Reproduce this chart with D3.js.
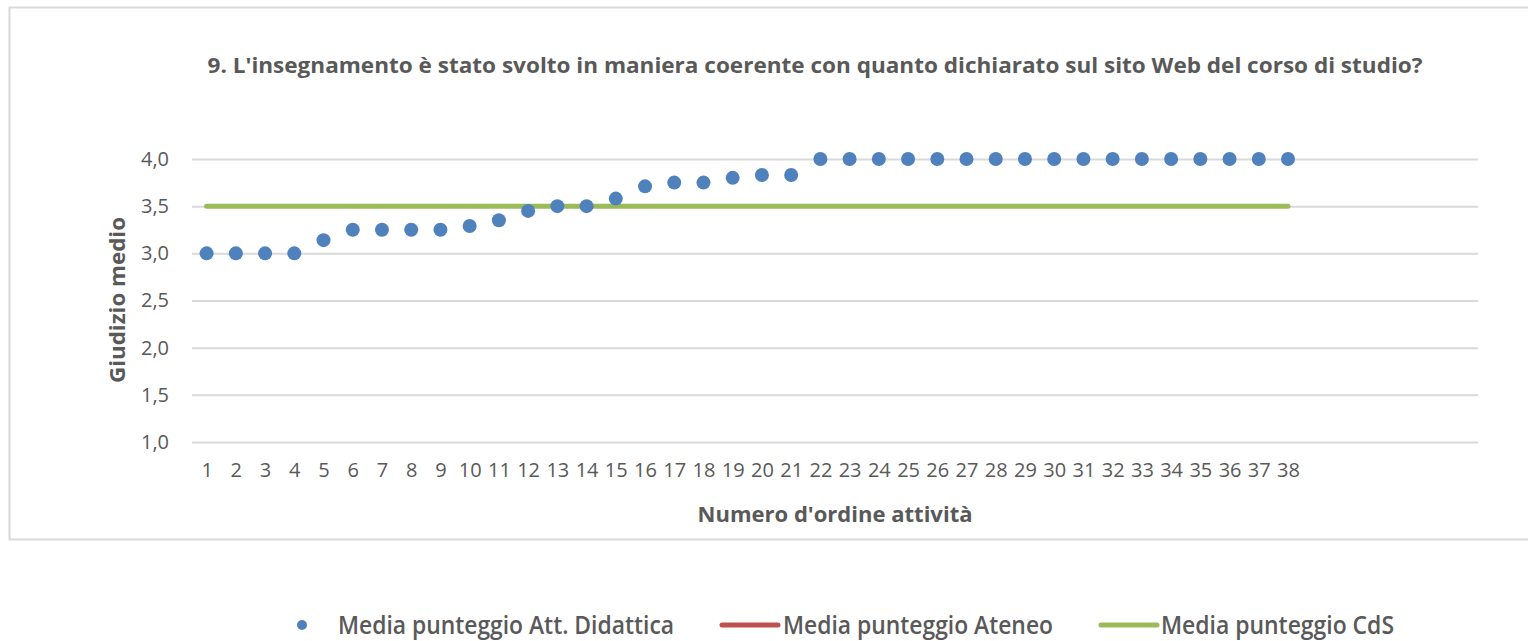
<!DOCTYPE html>
<html>
  <head>
    <meta charset="UTF-8">
    <title>9. L'insegnamento è stato svolto in maniera coerente</title>
    <script src="https://d3js.org/d3.v7.min.js"></script>
    <style type="text/css">
      body { margin: 0px; padding: 0px; background: #fff; }
      svg { display: block; }
      text { font-family: "Open Sans", "DejaVu Sans", sans-serif; fill: #595959; }
    </style>
  </head>
  <body>
    <div id="chart"></div>
    <script>
      // data
      const attivita = d3.range(1, 39);
      const mediaAttDidattica = [
        3.00, 3.00, 3.00, 3.00, 3.14, 3.25, 3.25, 3.25, 3.25, 3.29,
        3.35, 3.45, 3.50, 3.50, 3.58, 3.71, 3.75, 3.75, 3.80, 3.83,
        3.83, 4.00, 4.00, 4.00, 4.00, 4.00, 4.00, 4.00, 4.00, 4.00,
        4.00, 4.00, 4.00, 4.00, 4.00, 4.00, 4.00, 4.00
      ];
      const mediaCdS = 3.5;
      const categorySlots = 44; // the category axis has room for 44 activities
      const yTicks = [1.0, 1.5, 2.0, 2.5, 3.0, 3.5, 4.0];
      const titolo = "9. L'insegnamento è stato svolto in maniera coerente con quanto dichiarato sul sito Web del corso di studio?";
      const legendItems = [
        { label: "Media punteggio Att. Didattica", type: "dot", color: "#4f81bd" },
        { label: "Media punteggio Ateneo", type: "line", color: "#c0504d" },
        { label: "Media punteggio CdS", type: "line", color: "#9bbb59" }
      ];

      const width = 1528, height = 641;
      const plot = { left: 192, right: 1478, top: 159, bottom: 442 };

      const svg = d3.select("#chart").append("svg")
        .attr("width", width)
        .attr("height", height);

      // chart area border (open on the right, as in the picture)
      svg.append("path")
        .attr("d", `M${width},7.5 H9.5 V539.5 H${width}`)
        .attr("fill", "none")
        .attr("stroke", "#d9d9d9")
        .attr("stroke-width", 2);

      const x = d3.scaleLinear()
        .domain([0.5, categorySlots + 0.5])
        .range([plot.left, plot.right]);
      const y = d3.scaleLinear()
        .domain([1, 4])
        .range([plot.bottom, plot.top]);

      // fit a text to a given width, to stand in for the narrow Calibri face
      function fit(sel, w) {
        sel.attr("textLength", w).attr("lengthAdjust", "spacingAndGlyphs");
        return sel;
      }

      // title
      fit(svg.append("text")
        .attr("x", 815).attr("y", 73)
        .attr("text-anchor", "middle")
        .style("font-size", "22px")
        .style("font-weight", "bold")
        .text(titolo), 1215);

      // y axis: gridlines and labels
      const yAxis = d3.axisLeft(y)
        .tickValues(yTicks)
        .tickSize(-(plot.right - plot.left))
        .tickPadding(23)
        .tickFormat(d => d3.format(".1f")(d).replace(".", ","));
      const gy = svg.append("g")
        .attr("transform", `translate(${plot.left},0)`)
        .call(yAxis);
      gy.select(".domain").remove();
      gy.selectAll(".tick line")
        .attr("stroke", "#d9d9d9")
        .attr("stroke-width", 2);
      gy.selectAll(".tick text")
        .attr("fill", "#595959")
        .style("font-family", "'Open Sans', sans-serif")
        .style("font-size", "20px");

      // x axis labels
      const xAxis = d3.axisBottom(x)
        .tickValues(attivita)
        .tickSize(0)
        .tickPadding(0)
        .tickFormat(d3.format("d"));
      const gx = svg.append("g")
        .attr("transform", `translate(0,${plot.bottom + 21})`)
        .call(xAxis);
      gx.select(".domain").remove();
      gx.selectAll(".tick text")
        .attr("fill", "#595959")
        .style("font-family", "'Open Sans', sans-serif")
        .style("font-size", "20px");

      // axis titles
      fit(svg.append("text")
        .attr("transform", "translate(125,300) rotate(-90)")
        .attr("text-anchor", "middle")
        .style("font-size", "22px")
        .style("font-weight", "bold")
        .text("Giudizio medio"), 166);
      fit(svg.append("text")
        .attr("x", 835).attr("y", 522)
        .attr("text-anchor", "middle")
        .style("font-size", "22px")
        .style("font-weight", "bold")
        .text("Numero d'ordine attività"), 275);

      // CdS mean line
      svg.append("line")
        .attr("x1", x(attivita[0]))
        .attr("x2", x(attivita[attivita.length - 1]))
        .attr("y1", y(mediaCdS))
        .attr("y2", y(mediaCdS))
        .attr("stroke", "#9bbb59")
        .attr("stroke-width", 5)
        .attr("stroke-linecap", "round");

      // activity points
      svg.append("g").selectAll("circle")
        .data(mediaAttDidattica)
        .join("circle")
        .attr("cx", (d, i) => x(attivita[i]))
        .attr("cy", d => y(d))
        .attr("r", 7)
        .attr("fill", "#4f81bd");

      // legend
      const legendPos = [
        { sym: 302, text: 338, w: 336 },
        { sym: 722, text: 783, w: 270 },
        { sym: 1101, text: 1161, w: 233 }
      ];
      const legend = svg.append("g").attr("transform", "translate(0,625)");
      legendItems.forEach((item, i) => {
        const p = legendPos[i];
        if (item.type === "dot") {
          legend.append("circle")
            .attr("cx", p.sym).attr("cy", 0).attr("r", 5)
            .attr("fill", item.color);
        } else {
          legend.append("line")
            .attr("x1", p.sym).attr("x2", p.sym + 56)
            .attr("y1", 0).attr("y2", 0)
            .attr("stroke", item.color)
            .attr("stroke-width", 5)
            .attr("stroke-linecap", "round");
        }
        fit(legend.append("text")
          .attr("x", p.text).attr("y", 9)
          .style("font-size", "25px")
          .style("font-weight", "600")
          .text(item.label), p.w);
      });
    </script>
  </body>
</html>
